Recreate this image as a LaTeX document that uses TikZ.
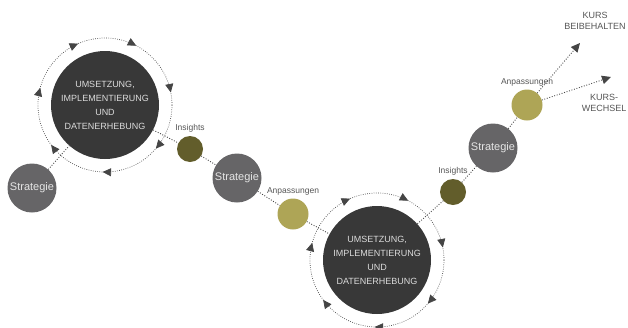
\documentclass[tikz,border=0pt]{standalone}
\usepackage{fontspec}
\setmainfont{Liberation Sans}
\usetikzlibrary{arrows.meta,decorations.markings,backgrounds,positioning}
\definecolor{kreis}{HTML}{383838}
\definecolor{grau}{HTML}{666567}
\definecolor{oliv}{HTML}{625D2B}
\definecolor{senf}{HTML}{AEA556}
\definecolor{linie}{HTML}{454545}
\definecolor{etikettgrau}{HTML}{555555}

\tikzset{
	umsetzung/.style={circle,fill=kreis,minimum size=108pt,inner sep=0pt,align=center,text=white!86!black,font=\fontsize{9}{14}\selectfont},
	strategie/.style={circle,fill=grau,minimum size=49pt,inner sep=0pt,text=white!90!black,font=\fontsize{11}{13}\selectfont},
	insight/.style={circle,fill=oliv,minimum size=26pt,inner sep=0pt},
	anpassung/.style={circle,fill=senf,minimum size=31pt,inner sep=0pt},
	etikett/.style={text=etikettgrau,font=\fontsize{8.5}{10}\selectfont,inner sep=1pt},
	ziel/.style={text=etikettgrau,font=\fontsize{9}{11.5}\selectfont,align=center,inner sep=0pt},
	link/.style={color=linie,dash pattern=on 0.9pt off 1.7pt,line width=0.9pt},
	spitze/.style={-{Triangle[length=9pt,width=8.5pt]}},
	zyklus/.style={color=linie,dash pattern=on 0.7pt off 1.5pt,line width=0.7pt,postaction={decorate},
		decoration={markings,mark=between positions 0.03 and 0.95 step 0.142857 with {\arrowreversed{Triangle[length=8.5pt,width=8pt]}}}},
}

\begin{document}
\begin{tikzpicture}[x=1pt,y=-1pt]
	\useasboundingbox (0,0) rectangle (628,327);
	\node[umsetzung] (u1) at (105,105) {UMSETZUNG,\\IMPLEMENTIERUNG\\UND\\DATENERHEBUNG};
	\node[umsetzung] (u2) at (377,260) {UMSETZUNG,\\IMPLEMENTIERUNG\\UND\\DATENERHEBUNG};
	\node[strategie] (s1) at (32,188) {Strategie};
	\node[strategie] (s2) at (237,178) {Strategie};
	\node[strategie] (s3) at (493,148) {Strategie};
	\node[insight] (i1) at (190,149) {};
	\node[insight] (i2) at (453,192) {};
	\node[anpassung] (a1) at (293,214) {};
	\node[anpassung] (a2) at (527,105) {};
	\node[etikett,above=2pt of i1] (li1) {Insights};
	\node[etikett,above=2pt of i2] (li2) {Insights};
	\node[etikett,above=2pt of a1] (la1) {Anpassungen};
	\node[etikett,above=2pt of a2] (la2) {Anpassungen};
	\coordinate (halten) at (580,43);
	\coordinate (wechsel) at (611,77);
	\node[ziel] (kh) at (595,21) {KURS\\BEIBEHALTEN};
	\node[ziel] (kw) at (604,103) {KURS-\\WECHSEL};
	\begin{scope}[on background layer]
	\draw[zyklus] (u1.center) circle[radius=67pt];
	\draw[zyklus] (u2.center) circle[radius=67pt];
	\draw[link] (s1)--(u1);
	\draw[link] (u1)--(i1);
	\draw[link] (i1)--(s2);
	\draw[link] (s2)--(a1);
	\draw[link] (a1)--(u2);
	\draw[link] (u2)--(i2);
	\draw[link] (i2)--(s3);
	\draw[link] (s3)--(a2);
	\end{scope}
	\draw[link,spitze] (a2)--(halten);
	\draw[link,spitze] (a2)--(wechsel);
\end{tikzpicture}
\end{document}
